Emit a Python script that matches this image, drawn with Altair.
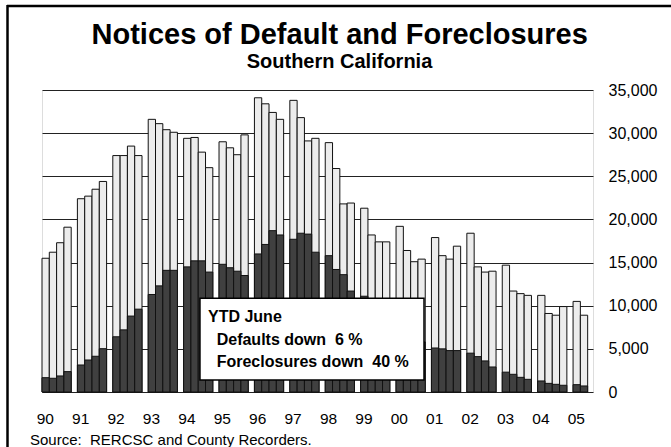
import altair as alt
import pandas as pd

year_labels = ["90", "91", "92", "93", "94", "95", "96", "97",
               "98", "99", "00", "01", "02", "03", "04", "05"]

# Quarterly notices of default (light bars), 1990 Q1 - 2005 Q2
defaults = [
    15500, 16200, 17300, 19100,
    22400, 22700, 23500, 24400,
    27400, 27400, 28500, 27400,
    31600, 31100, 30400, 30100,
    29400, 29500, 27800, 26000,
    29000, 28300, 27500, 29800,
    34100, 33400, 32400, 31600,
    33800, 31800, 29100, 29400,
    28900, 25900, 21800, 21900,
    21300, 18200, 17400, 17400,
    19200, 16400, 15100, 15400,
    17900, 15800, 15400, 16900,
    18400, 14500, 13900, 14000,
    14700, 11700, 11400, 11200,
    11200, 9100, 8900, 9900,
    10500, 8900,
]

# Quarterly foreclosures (dark bars)
foreclosures = [
    1660, 1590, 1860, 2360,
    3130, 3710, 4140, 5020,
    6400, 7200, 8800, 9600,
    11300, 12300, 14100, 14100,
    14500, 15200, 15200, 13900,
    14800, 14400, 14000, 13500,
    16000, 17100, 18700, 18200,
    17700, 18400, 18300, 16200,
    15800, 14200, 13600, 11700,
    11100, 10200, 9400, 8600,
    7800, 7000, 6300, 5800,
    5100, 5000, 4800, 4800,
    4500, 4100, 3600, 2900,
    2300, 2050, 1700, 1470,
    1280, 1000, 890, 780,
    850, 700,
]

y_ticks = [0, 5000, 10000, 15000, 20000, 25000, 30000, 35000]

GROUP = 4.85  # slot units per year (4 bars + gap)

rows = []
for i, (d, f) in enumerate(zip(defaults, foreclosures)):
    yi, q = divmod(i, 4)
    x = yi * GROUP + q
    rows.append({"x": x, "x2": x + 1, "defaults": d, "foreclosures": f})
df = pd.DataFrame(rows)

lab_df = pd.DataFrame({"label": year_labels,
                       "pos": [i * GROUP + 0.45 for i in range(len(year_labels))]})

FONT = "Liberation Sans"
xscale = alt.Scale(domain=[0, 75.48], nice=False, zero=False)
yscale = alt.Scale(domain=[0, 35000], nice=False)
yaxis = alt.Axis(orient="right", values=y_ticks, format=",.0f", grid=True,
                 gridColor="#222222", gridWidth=1, domain=False, ticks=False,
                 labelPadding=15, labelFontSize=16, labelFont=FONT,
                 labelColor="#000000", title=None)

base = alt.Chart(df)

light = base.mark_bar(fill="#ececec", stroke="#111111", strokeWidth=1).encode(
    x=alt.X("x:Q", scale=xscale, axis=None),
    x2="x2:Q",
    y=alt.Y("defaults:Q", scale=yscale, axis=yaxis),
    y2=alt.datum(0),
)

dark = base.mark_bar(fill="#404040", stroke="#111111", strokeWidth=1).encode(
    x=alt.X("x:Q", scale=xscale, axis=None),
    x2="x2:Q",
    y=alt.Y("foreclosures:Q", scale=yscale, axis=yaxis),
    y2=alt.datum(0),
)

labels = alt.Chart(lab_df).mark_text(
    align="center", baseline="alphabetic", fontSize=15.5, font=FONT, color="#000000"
).encode(
    x=alt.X("pos:Q", scale=xscale, axis=None),
    y=alt.value(333.5),
    text="label:N",
)

box_df = pd.DataFrame({"bx": [21.64], "bx2": [52.33], "by": [1390], "by2": [10860]})
box = alt.Chart(box_df).mark_rect(fill="white", stroke="#000000", strokeWidth=1.5).encode(
    x=alt.X("bx:Q", scale=xscale, axis=None),
    x2="bx2:Q",
    y=alt.Y("by:Q", scale=yscale, axis=yaxis),
    y2="by2:Q",
)

note_df = pd.DataFrame({
    "tx": [22.74, 23.93, 23.93],
    "ty": [8080, 5450, 2860],
    "txt": ["YTD June",
            "Defaults down \u00a06 %",
            "Foreclosures down \u00a040 %"],
})
notes = alt.Chart(note_df).mark_text(
    align="left", baseline="alphabetic", fontSize=16, fontWeight="bold",
    font=FONT, color="#000000"
).encode(
    x=alt.X("tx:Q", scale=xscale, axis=None),
    y=alt.Y("ty:Q", scale=yscale, axis=yaxis),
    text="txt:N",
)

dummy = alt.Chart(pd.DataFrame({"a": [0]}))
title = dummy.mark_text(
    align="center", baseline="alphabetic", fontSize=29, fontWeight="bold",
    font=FONT, color="#000000"
).encode(
    x=alt.value(297.7), y=alt.value(-45.7),
    text=alt.value("Notices of Default and Foreclosures"),
)
subtitle = dummy.mark_text(
    align="center", baseline="alphabetic", fontSize=20, fontWeight="bold",
    font=FONT, color="#000000"
).encode(
    x=alt.value(297.5), y=alt.value(-21.7),
    text=alt.value("Southern California"),
)
source = dummy.mark_text(
    align="left", baseline="alphabetic", fontSize=15, font=FONT, color="#000000"
).encode(
    x=alt.value(-12), y=alt.value(355),
    text=alt.value("Source: \u00a0RERCSC and County Recorders."),
)
frame_top = dummy.mark_rule(color="#000000", strokeWidth=2.5).encode(
    x=alt.value(-35), x2=alt.value(629), y=alt.value(-84)
)
frame_left = dummy.mark_rule(color="#000000", strokeWidth=2.5).encode(
    x=alt.value(-34.5), y=alt.value(-85), y2=alt.value(357)
)

chart = alt.layer(
    light, dark, box, notes, labels, title, subtitle, source, frame_top, frame_left
).properties(
    width=551,
    height=302,
    autosize=alt.AutoSizeParams(type="none"),
    padding={"left": 42, "top": 90, "right": 78, "bottom": 55},
).configure_view(stroke=None).configure(font=FONT, background="white")

chart.save("out.html", embed_options={"renderer": "svg", "actions": False})
